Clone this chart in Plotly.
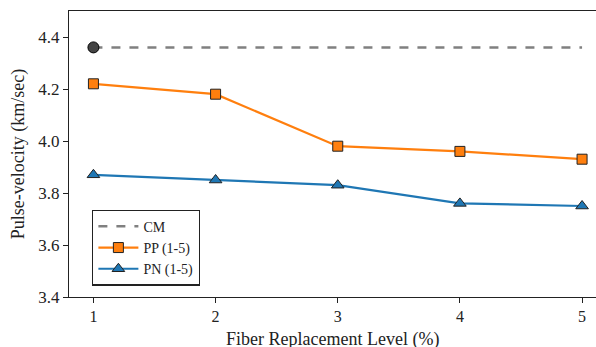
import plotly.graph_objects as go

levels = [1, 2, 3, 4, 5]
cm_value = 4.36
pp_values = [4.22, 4.18, 3.98, 3.96, 3.93]
pn_values = [3.87, 3.85, 3.83, 3.76, 3.75]

font_family = "Liberation Serif"

fig = go.Figure()
fig.add_trace(go.Scatter(
    x=levels, y=[cm_value] * len(levels), mode="lines", name="CM",
    line=dict(color="#808080", width=2.5, dash="dash")))
fig.add_trace(go.Scatter(
    x=levels[:1], y=[cm_value], mode="markers", showlegend=False,
    marker=dict(symbol="circle", size=11, color="#444444",
                line=dict(color="black", width=1))))
fig.add_trace(go.Scatter(
    x=levels, y=pp_values, mode="lines+markers", name="PP (1-5)",
    line=dict(color="#ff7f0e", width=2.2),
    marker=dict(symbol="square", size=10, color="#ff7f0e",
                line=dict(color="#222222", width=1))))
fig.add_trace(go.Scatter(
    x=levels, y=pn_values, mode="lines+markers", name="PN (1-5)",
    line=dict(color="#1f77b4", width=2.2),
    marker=dict(symbol="triangle-up", size=11, color="#1f77b4",
                line=dict(color="#222222", width=1))))

fig.update_layout(
    width=596, height=347,
    margin=dict(l=69, r=0, t=11, b=50),
    paper_bgcolor="white", plot_bgcolor="white",
    font=dict(family=font_family, size=14, color="#222222"),
    legend=dict(x=0.044, y=0.04, xanchor="left", yanchor="bottom",
                bgcolor="white", bordercolor="#222222", borderwidth=1.2,
                font=dict(size=14, family=font_family), tracegroupgap=0,
                itemwidth=40),
    showlegend=True,
    annotations=[dict(
        text="Fiber Replacement Level (%)", xref="paper", yref="paper",
        x=0.5, y=-0.148, xanchor="center", yanchor="middle", showarrow=False,
        font=dict(size=18, family=font_family, color="#222222"))],
)
fig.update_xaxes(
    range=[0.8, 5.114], tickvals=levels, ticktext=[str(v) for v in levels],
    showgrid=False, zeroline=False, showline=True, linecolor="#222222",
    linewidth=1.3, mirror=True, ticks="outside", ticklen=5, tickcolor="#222222",
    tickfont=dict(size=16, family=font_family), automargin=False)
fig.update_yaxes(
    range=[3.4, 4.5], tickvals=[3.4, 3.6, 3.8, 4.0, 4.2, 4.4],
    ticktext=["3.4", "3.6", "3.8", "4.0", "4.2", "4.4"],
    showgrid=False, zeroline=False, showline=True, linecolor="#222222",
    linewidth=1.3, ticks="outside", ticklen=5, tickcolor="#222222",
    tickfont=dict(size=17, family=font_family), automargin=False,
    title=dict(text="Pulse-velocity (km/sec)",
               font=dict(size=18, family=font_family), standoff=8))

fig.write_html("out.html")
